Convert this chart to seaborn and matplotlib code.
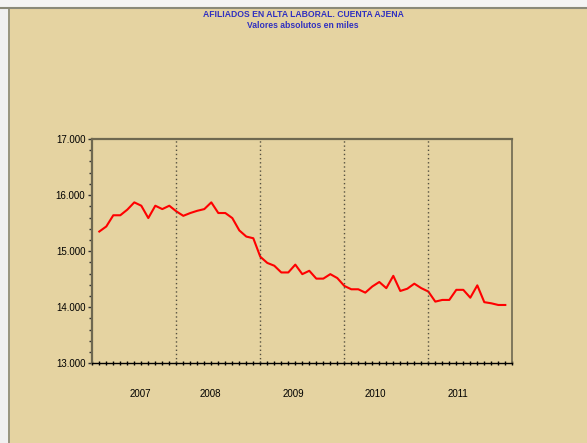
import numpy as np
import pandas as pd
import matplotlib
matplotlib.use("Agg")
import matplotlib.pyplot as plt
import matplotlib.ticker as mticker
from matplotlib.patches import Rectangle
from matplotlib.lines import Line2D
import seaborn as sns

# ---- data (thousands of affiliates, monthly) ----
month_index = list(range(1, 60))
afiliados = [
    15.35, 15.44, 15.64, 15.64, 15.74, 15.87, 15.81, 15.59, 15.81, 15.75, 15.81, 15.71,
    15.63, 15.68, 15.72, 15.75, 15.87, 15.68, 15.68, 15.59, 15.37, 15.26, 15.23, 14.90,
    14.79, 14.74, 14.62, 14.62, 14.76, 14.59, 14.65, 14.51, 14.51, 14.59, 14.52, 14.38,
    14.32, 14.32, 14.26, 14.37, 14.45, 14.34, 14.56, 14.29, 14.33, 14.42, 14.34, 14.28,
    14.10, 14.13, 14.13, 14.31, 14.31, 14.17, 14.39, 14.09, 14.07, 14.04, 14.04,
]
year_labels = ["2007", "2008", "2009", "2010", "2011"]
year_label_pos = [6.8, 16.8, 28.7, 40.5, 52.2]
year_breaks = [12, 24, 36, 48]
title_lines = ["AFILIADOS EN ALTA LABORAL. CUENTA AJENA", "Valores absolutos en miles"]

df = pd.DataFrame({"mes": month_index, "valor": afiliados})

BG = "#E5D3A1"
plt.rcParams["font.family"] = ["Liberation Sans", "DejaVu Sans"]

fig = plt.figure(figsize=(5.87, 4.43), dpi=100, facecolor=BG)
ax = fig.add_axes([92.3 / 587, 1 - 363.3 / 443, 420 / 587, 224.3 / 443])
ax.set_facecolor(BG)

sns.lineplot(data=df, x="mes", y="valor", ax=ax, color="#FF0000", linewidth=1.5)

ax.set_xlim(0, 60)
ax.set_ylim(13, 17)
for xb in year_breaks:
    ax.axvline(xb, color="#555040", linestyle=(0, (1, 2)), linewidth=1.0)

ax.yaxis.set_major_locator(mticker.MultipleLocator(1))
ax.yaxis.set_minor_locator(mticker.MultipleLocator(0.2))
ax.yaxis.set_major_formatter(mticker.FuncFormatter(lambda v, p: f"{v:.3f}"))
ax.tick_params(axis="y", which="major", length=3, width=1, direction="out",
               labelsize=7, pad=2, colors="#333333", labelcolor="#000000")
ax.tick_params(axis="y", which="minor", length=2, width=1, direction="out", colors="#333333")

ax.xaxis.set_major_locator(mticker.MultipleLocator(12))
ax.xaxis.set_minor_locator(mticker.MultipleLocator(1))
ax.tick_params(axis="x", which="major", length=3, width=1, direction="inout", labelbottom=False)
ax.tick_params(axis="x", which="minor", length=3, width=1, direction="inout")
ax.set_xlabel("")
ax.set_ylabel("")

for side in ["top", "left"]:
    ax.spines[side].set_color("#6E6850")
    ax.spines[side].set_linewidth(1.6)
ax.spines["right"].set_color("#6E6850")
ax.spines["right"].set_linewidth(1.2)
ax.spines["bottom"].set_color("#000000")
ax.spines["bottom"].set_linewidth(1.0)

trans = matplotlib.transforms.blended_transform_factory(ax.transData, ax.transAxes)
for lab, pos in zip(year_labels, year_label_pos):
    ax.text(pos, -0.1355, lab, transform=trans, ha="center", va="center",
            fontsize=7, color="#000000")

fig.text(303 / 587, 1 - 14.3 / 443, title_lines[0], ha="center", va="center",
         fontsize=6.2, fontweight="bold", color="#3030C0")
fig.text(303 / 587, 1 - 26 / 443, title_lines[1], ha="center", va="center",
         fontsize=6.2, fontweight="bold", color="#3030C0")

# window frame decoration
fig.add_artist(Rectangle((0, 1 - 6.5 / 443), 1, 6.5 / 443, transform=fig.transFigure,
                         facecolor="#F4F4F4", edgecolor="none", zorder=5))
fig.add_artist(Line2D([0, 1], [1 - 7.5 / 443] * 2, transform=fig.transFigure,
                      color="#8A8A7A", linewidth=1.5, zorder=6))
fig.add_artist(Rectangle((0, 0), 8 / 587, 1 - 6.5 / 443, transform=fig.transFigure,
                         facecolor="#F0F0F0", edgecolor="none", zorder=5))
fig.add_artist(Line2D([8.5 / 587] * 2, [0, 1 - 7.5 / 443], transform=fig.transFigure,
                      color="#8A8A7A", linewidth=1.2, zorder=6))

fig.savefig("out.png", dpi=100, facecolor=BG)
